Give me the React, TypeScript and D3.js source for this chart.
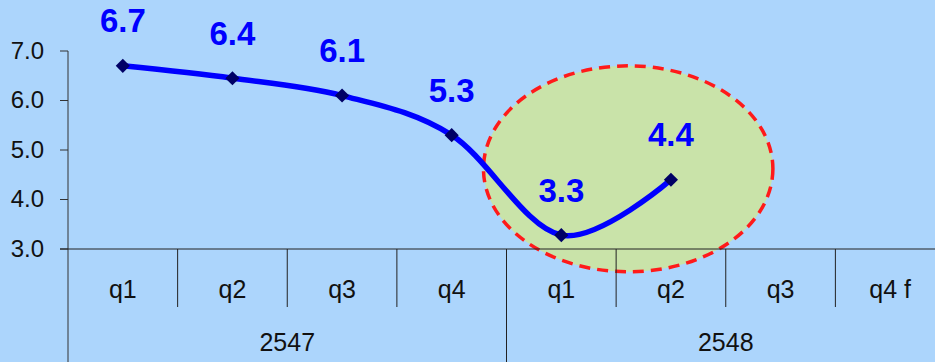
import React from "react";
import * as d3 from "d3";

const quarters = ["q1", "q2", "q3", "q4", "q1", "q2", "q3", "q4 f"];
const years = ["2547", "2548"];
const yearSpans = [4, 4];
const values = [6.7, 6.45, 6.1, 5.3, 3.28, 4.4];
const valueLabels = ["6.7", "6.4", "6.1", "5.3", "3.3", "4.4"];
const yTicks = [3, 4, 5, 6, 7];

// highlight ellipse, in data units (category position from left edge, value)
const highlight = { cx: 5.11, cy: 4.62, rx: 1.32, ry: 2.08 };

const width = 935;
const height = 362;
const margin = { left: 68, top: 51, axisY: 249, right: 945 };
const font = "'Liberation Sans', Arial, sans-serif";

const App = () => {
  const x = d3
    .scaleBand<number>()
    .domain(d3.range(quarters.length))
    .range([margin.left, margin.right])
    .paddingInner(0)
    .paddingOuter(0);
  const bw = x.bandwidth();
  const cx = (i: number) => (x(i) as number) + bw / 2;

  const y = d3
    .scaleLinear()
    .domain([3, 7])
    .range([margin.axisY, margin.top]);

  const line = d3
    .line<number>()
    .x((d, i) => cx(i))
    .y((d) => y(d))
    .curve(d3.curveCardinal.tension(0));

  const ex = margin.left + highlight.cx * bw;
  const ey = y(highlight.cy);
  const erx = highlight.rx * bw;
  const ery = y(3) - y(3 + highlight.ry);

  let yearStart = 0;

  return (
    <svg
      width={width}
      height={height}
      style={{ position: "absolute", left: 0, top: 0, display: "block" }}
    >
      <rect width={width} height={height} fill="#acd5fc" />

      {/* highlight */}
      <ellipse
        cx={ex}
        cy={ey}
        rx={erx}
        ry={ery}
        fill="#c9e3a9"
        stroke="#ff1a1a"
        strokeWidth={3.5}
        strokeDasharray="11 7"
      />

      {/* y axis */}
      <line
        x1={margin.left}
        x2={margin.left}
        y1={y(7)}
        y2={height}
        stroke="#333"
        strokeWidth={1}
      />
      {yTicks.map((t) => (
        <g key={t}>
          <line
            x1={margin.left - 8}
            x2={margin.left}
            y1={y(t)}
            y2={y(t)}
            stroke="#333"
          />
          <text
            x={margin.left - 24}
            y={y(t)}
            dy="0.33em"
            textAnchor="end"
            fontFamily={font}
            fontSize={24}
            fill="#111"
          >
            {t.toFixed(1)}
          </text>
        </g>
      ))}

      {/* x axis */}
      <line
        x1={margin.left - 8}
        x2={width}
        y1={margin.axisY}
        y2={margin.axisY}
        stroke="#222"
      />
      {quarters.map((q, i) => (
        <g key={i}>
          {i > 0 && (
            <line
              x1={x(i)}
              x2={x(i)}
              y1={margin.axisY}
              y2={i % 4 === 0 ? height : margin.axisY + 58}
              stroke="#222"
            />
          )}
          <text
            x={cx(i)}
            y={margin.axisY + 40}
            dy="0.35em"
            textAnchor="middle"
            fontFamily={font}
            fontSize={25}
            fill="#111"
          >
            {q}
          </text>
        </g>
      ))}
      {years.map((yr, k) => {
        const s = yearStart;
        yearStart += yearSpans[k];
        const mid = ((x(s) as number) + (x(s + yearSpans[k] - 1) as number) + bw) / 2;
        return (
          <text
            key={yr}
            x={mid}
            y={margin.axisY + 93}
            dy="0.35em"
            textAnchor="middle"
            fontFamily={font}
            fontSize={25}
            fill="#111"
          >
            {yr}
          </text>
        );
      })}

      {/* series */}
      <path
        d={line(values) || ""}
        fill="none"
        stroke="#0000ff"
        strokeWidth={5.5}
        strokeLinejoin="round"
      />
      {values.map((v, i) => (
        <rect
          key={i}
          x={cx(i) - 5}
          y={y(v) - 5}
          width={10}
          height={10}
          fill="#000066"
          transform={`rotate(45 ${cx(i)} ${y(v)})`}
        />
      ))}
      {values.map((v, i) => (
        <text
          key={i}
          x={cx(i)}
          y={y(v) - 45}
          dy="0.35em"
          textAnchor="middle"
          fontFamily={font}
          fontWeight="bold"
          fontSize={33}
          fill="#0000ff"
        >
          {valueLabels[i]}
        </text>
      ))}
    </svg>
  );
};

export default App;
